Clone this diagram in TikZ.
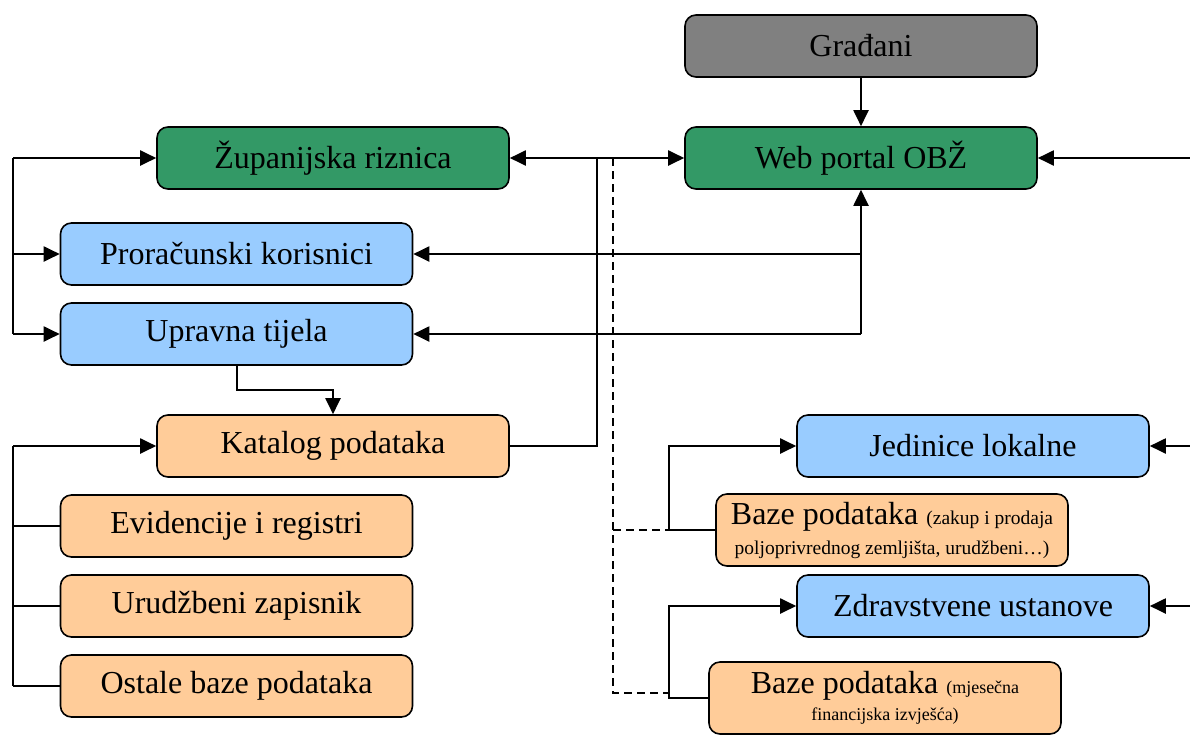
\documentclass[tikz,border=0pt]{standalone}
\usepackage{fontspec}
\setmainfont{Liberation Serif}
\usetikzlibrary{arrows.meta}
\definecolor{cgray}{HTML}{808080}
\definecolor{cgreen}{HTML}{339966}
\definecolor{cblue}{HTML}{99CCFF}
\definecolor{corange}{HTML}{FFCC99}
\begin{document}
\begin{tikzpicture}[x=1pt,y=-1pt,
  box/.style={draw, line width=1.6pt, rounded corners=11pt, minimum width=352pt, minimum height=62pt, inner sep=0pt, font=\fontsize{32}{30}\selectfont},
  conn/.style={line width=2pt},
  arr/.style={conn, -{Triangle[length=16pt,width=15pt]}},
  dsh/.style={line width=2pt, dash pattern=on 8pt off 5pt}]
\useasboundingbox (0,0) rectangle (1190,734);
% nodes
\node[box, fill=cgray]   (gradjani) at (861,46)    {Građani};
\node[box, fill=cgreen]  (web)      at (861,158)   {Web portal OBŽ};
\node[box, fill=cgreen]  (zup)      at (333,158)   {Županijska riznica};
\node[box, fill=cblue]   (pror)     at (236.5,254) {Proračunski korisnici};
\node[box, fill=cblue]   (upr)      at (236.5,334) {Upravna tijela};
\node[box, fill=corange] (kat)      at (333,446)   {Katalog podataka};
\node[box, fill=corange] (evid)     at (236.5,526) {Evidencije i registri};
\node[box, fill=corange] (urud)     at (236.5,606) {Urudžbeni zapisnik};
\node[box, fill=corange] (ost)      at (236.5,686) {Ostale baze podataka};
\node[box, fill=cblue]   (jed)      at (973,446)   {Jedinice lokalne};
\node[box, fill=corange, minimum height=72pt, align=center] (baze1) at (892,530)
  {Baze podataka {\fontsize{19.5}{20}\selectfont (zakup i prodaja}\\
   {\fontsize{19.5}{20}\selectfont poljoprivrednog zemljišta, urudžbeni…)}};
\node[box, fill=cblue]   (zdr)      at (973,606)   {Zdravstvene ustanove};
\node[box, fill=corange, minimum height=72pt, align=center, font=\fontsize{32}{27}\selectfont] (baze2) at (885,698)
  {Baze podataka {\fontsize{18}{20}\selectfont (mjesečna}\\
   {\fontsize{18}{20}\selectfont financijska izvješća)}};
% coordinates
\coordinate (lbA) at (13,158);
\coordinate (lbB) at (13,254);
\coordinate (lbC) at (13,334);
\coordinate (lbD) at (13,446);
\coordinate (lbE) at (13,526);
\coordinate (lbF) at (13,606);
\coordinate (lbG) at (13,686);
\coordinate (v1t) at (597,158);
\coordinate (v1b) at (597,446);
\coordinate (dvt) at (613,158);
\coordinate (dv1) at (613,530);
\coordinate (dvb) at (613,693);
\coordinate (dh1) at (669,530);
\coordinate (dh2) at (669,693);
\coordinate (j1) at (669,446);
\coordinate (z1) at (669,606);
\coordinate (r1) at (1192,158);
\coordinate (r2) at (1192,446);
\coordinate (r3) at (1192,606);
\coordinate (w2) at (861,254);
\coordinate (w3) at (861,334);
\coordinate (u2) at (333,390);
% connectors
\draw[arr] (gradjani) -- (web);
\draw[conn] (lbA) -- (lbC);
\draw[arr] (lbA) -- (zup.west);
\draw[arr] (lbB) -- (pror.west);
\draw[arr] (lbC) -- (upr.west);
\draw[conn, {Triangle[length=16pt,width=15pt]}-{Triangle[length=16pt,width=15pt]}] (zup.east) -- (web.west);
\draw[conn] (v1t) -- (v1b) -- (kat.east);
\draw[dsh] (dvt) -- (dvb) -- (dh2);
\draw[dsh] (dv1) -- (dh1);
\draw[arr] (baze1.west) -| (j1) -- (jed.west);
\draw[arr] (baze2.west) -| (z1) -- (zdr.west);
\draw[arr] (r1) -- (web.east);
\draw[arr] (r2) -- (jed.east);
\draw[arr] (r3) -- (zdr.east);
\draw[arr] (w3) -- (web.south);
\draw[arr] (w2) -- (pror.east);
\draw[arr] (w3) -- (upr.east);
\draw[arr] (upr.south) |- (u2) -- (kat.north);
\draw[conn] (lbD) -- (lbG);
\draw[arr] (lbD) -- (kat.west);
\draw[conn] (lbE) -- (evid.west);
\draw[conn] (lbF) -- (urud.west);
\draw[conn] (lbG) -- (ost.west);
\end{tikzpicture}
\end{document}
